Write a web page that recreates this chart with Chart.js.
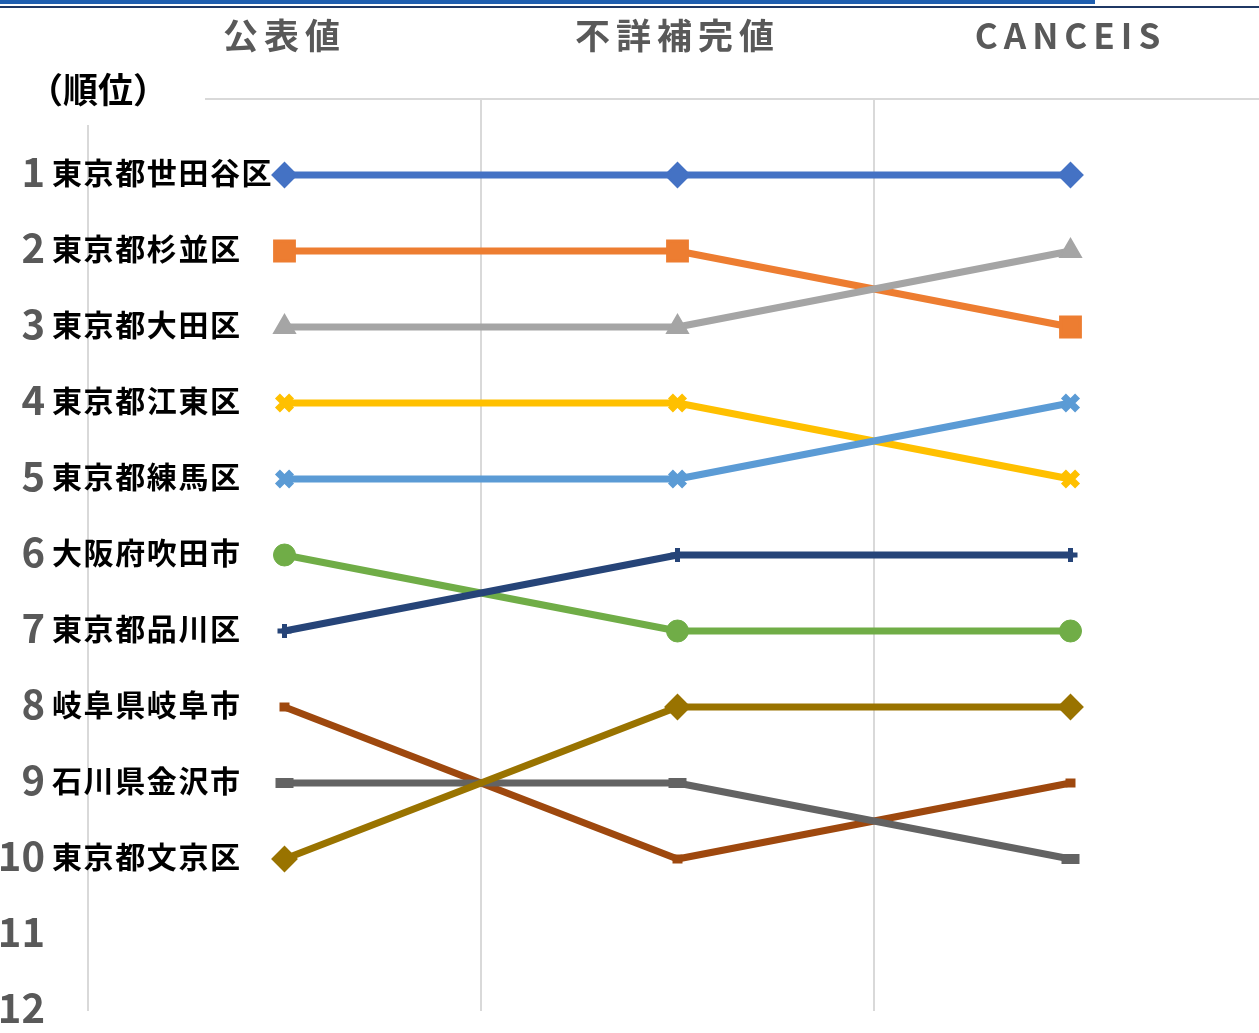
<!DOCTYPE html>
<html><head><meta charset="utf-8">
<script src="https://cdn.jsdelivr.net/npm/chart.js@4"></script>
<style>
html,body{margin:0;padding:0;background:#fff;overflow:hidden;width:1259px;height:1033px;}
#wrap{position:absolute;left:0;top:0;width:1270px;height:1033px;}
#bar1{position:absolute;left:0;top:0;width:1095px;height:4px;background:#1f5fb0;z-index:2;}
#bar2{position:absolute;left:0;top:6px;width:1259px;height:2px;background:#1f3864;z-index:2;}
</style></head>
<body>
<div id="bar1"></div><div id="bar2"></div>
<div id="wrap"><canvas id="c" width="1270" height="1033"></canvas></div>
<script>
const categories = ['公表値', '不詳補完値', 'CANCEIS'];
const regionNames = ['東京都世田谷区','東京都杉並区','東京都大田区','東京都江東区','東京都練馬区','大阪府吹田市','東京都品川区','岐阜県岐阜市','石川県金沢市','東京都文京区'];
const setagaya = [1, 1, 1];
const suginami = [2, 2, 3];
const ota      = [3, 3, 2];
const koto     = [4, 4, 5];
const nerima   = [5, 5, 4];
const suita    = [6, 7, 7];
const shinagawa= [7, 6, 6];
const gifu     = [8, 10, 9];
const kanazawa = [9, 9, 10];
const bunkyo   = [10, 8, 8];
const rankTicks = [1,2,3,4,5,6,7,8,9,10,11,12];
const yAxisTitle = '（順位）';

const seriesValues = [setagaya, suginami, ota, koto, nerima, suita, shinagawa, gifu, kanazawa, bunkyo];
const colors = ['#4472C4','#ED7D31','#A5A5A5','#FFC000','#5B9BD5','#70AD47','#264478','#9E480E','#636363','#997300'];
const styles = [
  {pointStyle:'rectRot', radius:12, bw:2},
  {pointStyle:'rect', radius:14, bw:3},
  {pointStyle:'triangle', radius:12, bw:2},
  {pointStyle:'crossRot', radius:10, bw:7},
  {pointStyle:'crossRot', radius:10, bw:7},
  {pointStyle:'circle', radius:11, bw:1},
  {pointStyle:'cross', radius:7, bw:5},
  {pointStyle:'line', radius:5, bw:9},
  {pointStyle:'line', radius:9, bw:10},
  {pointStyle:'rectRot', radius:12, bw:2},
];
const FONT = "'Noto Sans CJK JP', 'Noto Sans', sans-serif";

const datasets = seriesValues.map((v, i) => ({
  label: regionNames[i],
  data: v,
  borderColor: colors[i],
  backgroundColor: colors[i],
  borderWidth: 7,
  pointStyle: styles[i].pointStyle,
  pointRadius: styles[i].radius,
  pointHoverRadius: styles[i].radius,
  pointBorderWidth: styles[i].bw,
  pointBorderColor: colors[i],
  pointBackgroundColor: colors[i],
  borderCapStyle: 'round',
  borderJoinStyle: 'round',
  tension: 0,
  order: -i,
}));

function noPad(s) { s.paddingLeft = 0; s.paddingRight = 0; s.paddingTop = 0; s.paddingBottom = 0; }

const decoPlugin = {
  id: 'deco',
  beforeDraw(chart) {
    chart.ctx.letterSpacing = '6px';
  },
  beforeDatasetsDraw(chart) {
    const ctx = chart.ctx;
    ctx.letterSpacing = '0px';
    ctx.save();
    ctx.fillStyle = '#ffffff';
    ctx.fillRect(0, 60, 205, 65);
    ctx.fillStyle = '#000000';
    ctx.font = 'bold 35px ' + FONT;
    ctx.textAlign = 'center';
    ctx.textBaseline = 'middle';
    ctx.fillText(yAxisTitle, 98, 90);
    ctx.restore();
  },
  afterDatasetsDraw(chart) {
    const ctx = chart.ctx;
    const ys = chart.scales.y;
    ctx.save();
    ctx.letterSpacing = '1.6px';
    ctx.font = 'bold 30px ' + FONT;
    ctx.fillStyle = '#000000';
    ctx.textAlign = 'left';
    ctx.textBaseline = 'middle';
    chart.data.datasets.forEach(ds => {
      ctx.fillText(ds.label, 52, ys.getPixelForValue(ds.data[0]) - 2);
    });
    ctx.restore();
    ctx.letterSpacing = '0px';
  }
};

new Chart(document.getElementById('c'), {
  type: 'line',
  data: { labels: categories, datasets },
  options: {
    responsive: false,
    animation: false,
    devicePixelRatio: 1,
    layout: { autoPadding: false, padding: { top: 0, right: 3, bottom: 22, left: 0 } },
    plugins: { legend: { display: false }, tooltip: { enabled: false } },
    scales: {
      x: {
        position: 'top',
        offset: true,
        grid: { offset: true, color: '#d9d9d9', lineWidth: 2, drawTicks: false },
        border: { display: false },
        ticks: { color: '#595959', font: { family: FONT, size: 35, weight: 'bold' }, padding: 42 },
        afterFit(s) { s.height = 99; noPad(s); }
      },
      y: {
        reverse: true,
        min: 0, max: 12,
        afterBuildTicks(s) { s.ticks = [0].concat(rankTicks).map(v => ({ value: v })); },
        grid: {
          drawTicks: false,
          lineWidth: 2,
          color: c => (c.tick && c.tick.value === 0) ? '#d9d9d9' : 'rgba(0,0,0,0)'
        },
        border: { display: false },
        ticks: {
          z: 1,
          color: '#595959',
          padding: 43,
          labelOffset: -3,
          font: { family: FONT, size: 40, weight: 'bold' },
          callback: v => v === 0 ? '' : String(v)
        },
        afterFit(s) { s.width = 88; noPad(s); }
      }
    }
  },
  plugins: [decoPlugin]
});
</script>
</body></html>
